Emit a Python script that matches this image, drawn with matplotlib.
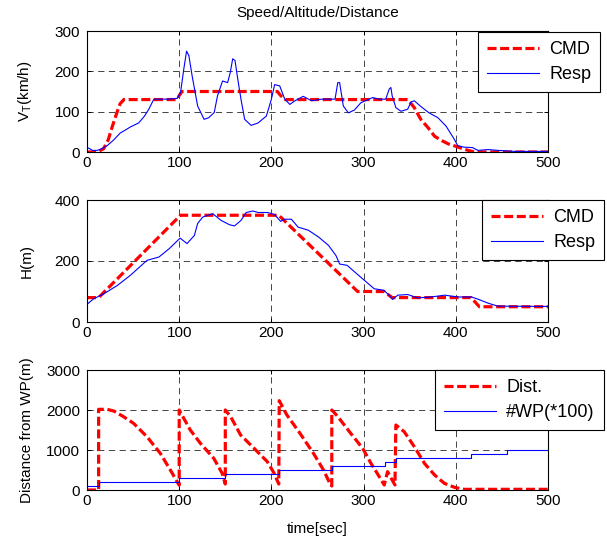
import matplotlib
matplotlib.use('Agg')
import matplotlib.pyplot as plt

plt.rcParams['font.family'] = ['Liberation Sans', 'DejaVu Sans']
plt.rcParams['lines.scale_dashes'] = False
plt.rcParams['mathtext.fontset'] = 'custom'
plt.rcParams['mathtext.rm'] = 'Liberation Sans'

# speed command / response (km/h)
spd_cmd_t = [0, 11, 18, 23, 27, 32, 36, 40, 98, 100, 103, 206.5, 210, 215,
             348, 355, 362, 370, 377, 385, 392, 399, 405, 412, 420, 500]
spd_cmd = [0, 0, 8, 30, 60, 95, 120, 130, 130, 140, 150, 150, 140, 130,
           130, 110, 81, 60, 39, 28, 20, 15, 10, 5, 0, 0]

spd_resp_t = [0, 3, 6, 11, 16, 22, 29, 36, 42, 47, 56, 62, 67, 72.5, 80, 87, 98,
              101.5, 105, 108, 110.5, 114, 120, 127, 132, 138, 141.5, 147, 152.5,
              155.4, 158, 160.5, 163.5, 167, 171, 178, 185.5, 194.5, 200, 203.5,
              209, 214.5, 220, 225.5, 234.5, 243.6, 254.5, 269, 272, 274, 278,
              283.5, 290, 297, 309.8, 317, 324, 327.8, 329.6, 331, 335, 340.5,
              347.8, 351.4, 355, 362, 371, 380.6, 389.5, 398.5, 402, 409, 418,
              424, 435, 446, 464, 500]
spd_resp = [11.5, 8, 4, 4, 8, 16, 30, 47, 55, 62, 72, 88, 106, 131, 131, 131, 133,
            148, 206, 250, 239, 189, 114, 81, 85, 98, 139, 176, 172,
            197, 231, 227, 181, 131, 81, 66, 72, 89, 131, 167,
            164, 131, 118, 127, 138, 127, 131, 131, 172, 172, 114,
            97, 104, 122, 135, 131, 131, 156, 160, 139, 110, 101,
            106, 124, 127, 113, 97, 85, 64, 31, 16, 12, 11,
            4, 6, 4, 1.5, 1.5]

# altitude command / response (m)
alt_cmd_t = [0, 12.6, 101.4, 208, 293.5, 322, 331, 416.6, 425.6, 500]
alt_cmd = [80, 80, 350, 350, 100, 100, 80, 80, 50, 50]

alt_resp_t = [0, 7.2, 18, 33, 47, 65, 78, 89, 101, 108.5, 116.5, 120, 125.5,
              136.4, 145.5, 154.5, 160, 167, 172.7, 180, 185.5, 196, 203.5, 210,
              214.5, 221.7, 229, 240, 251, 262, 270, 274, 278, 282, 290, 300.7,
              311.5, 322, 327.6, 331.5, 337, 348, 358.7, 373, 388, 402.5, 417,
              424, 434.8, 445.6, 500]
alt_resp = [58, 76, 92, 120, 153, 202, 213, 240, 275, 257, 284, 323, 344,
            355, 333, 319, 315, 333, 359, 364, 359, 359, 352, 330,
            337, 337, 311, 301, 279, 251, 218, 190, 188, 186, 165, 137,
            109, 104, 88, 74, 88, 90, 79, 82, 88, 82, 82,
            75, 62, 52, 51]

# distance to waypoint (m) and waypoint index (*100)
dist_t = [0, 12.6, 12.6, 21.7, 29, 39.6, 50.5, 65, 79.5, 90.4, 97.7, 100, 100,
          112, 123, 137.5, 146.6, 150, 150, 155.8, 166.6, 181.2, 195.6, 203,
          208, 208.5, 216.8, 231, 245.6, 256.5, 263.7, 265.5, 265.5, 271.5, 286,
          299, 308, 317, 322.4, 326, 330, 334, 335, 344, 355, 366, 377, 387.6,
          398.5, 409, 500]
dist = [0, 0, 2017, 2017, 1975, 1833, 1667, 1333, 917, 500, 208, 120, 2000,
        1500, 1167, 792, 417, 150, 2000, 1833, 1375, 1042, 708, 417,
        150, 2233, 1875, 1417, 917, 500, 150, 100, 2000, 1850, 1417,
        1042, 667, 333, 125, 458, 292, 125, 1625, 1458, 1083, 667, 375, 167,
        67, 17, 17]

wp_t = [0, 12.6, 100, 150, 208.5, 265.5, 323, 335, 417, 455, 500]
wp = [100, 200, 300, 400, 500, 600, 700, 800, 900, 1000, 1000]

x_ticks = [0, 100, 200, 300, 400, 500]

W, H = 607, 541
fig = plt.figure(figsize=(W / 100, H / 100), dpi=100)

def make_axes(top_px, bot_px):
    return fig.add_axes([87 / W, 1 - bot_px / H, 461 / W, (bot_px - top_px) / H])

ax1 = make_axes(31, 152)
ax2 = make_axes(200, 322)
ax3 = make_axes(370, 490)

cmd_style = dict(color='red', lw=2.3, linestyle=(0, (6.5, 2.6)))
resp_style = dict(color='blue', lw=0.8)

ax1.plot(spd_cmd_t, spd_cmd, label='CMD', **cmd_style)
ax1.plot(spd_resp_t, spd_resp, label='Resp', **resp_style)
ax1.set_ylim(0, 300)
ax1.set_yticks([0, 100, 200, 300])
ax1.set_ylabel(r'V$_\mathregular{T}$(km/h)', fontsize=11)
ax1.set_title('Speed/Altitude/Distance', fontsize=11, pad=10)

ax2.plot(alt_cmd_t, alt_cmd, label='CMD', **cmd_style)
ax2.plot(alt_resp_t, alt_resp, label='Resp', **resp_style)
ax2.set_ylim(0, 400)
ax2.set_yticks([0, 200, 400])
ax2.set_ylabel('H(m)', fontsize=11)

ax3.plot(dist_t, dist, label='Dist.', **cmd_style)
ax3.plot(wp_t, wp, label='#WP(*100)', drawstyle='steps-post', **resp_style)
ax3.set_ylim(0, 3000)
ax3.set_yticks([0, 1000, 2000, 3000])
ax3.set_ylabel('Distance from WP(m)', fontsize=11)
ax3.set_xlabel('time[sec]', fontsize=11)
ax3.xaxis.set_label_coords(0.5, -0.265)

legend_pos = [(478, 32), (482, 200), (435, 370)]
for ax, (lx, ly) in zip([ax1, ax2, ax3], legend_pos):
    ax.set_xlim(0, 500)
    ax.set_xticks(x_ticks)
    ax.grid(True, color='0.15', lw=0.6, linestyle=(0, (4.5, 3.2)))
    ax.tick_params(direction='in', length=3, width=0.7, labelsize=11,
                   top=True, right=True)
    ax.tick_params(axis='y', pad=5)
    ax.tick_params(axis='x', pad=3)
    for s in ax.spines.values():
        s.set_linewidth(0.8)
    ax.yaxis.set_label_coords(-0.115, 0.5)
    leg = ax.legend(loc='upper left', bbox_to_anchor=(lx / W, 1 - ly / H),
                    bbox_transform=fig.transFigure, borderaxespad=0,
                    fontsize=13, handlelength=2.9, handletextpad=0.55,
                    borderpad=0.5, labelspacing=0.45, fancybox=False,
                    framealpha=1, edgecolor='black')
    leg.get_frame().set_linewidth(0.8)

fig.savefig('out.png', dpi=100)
